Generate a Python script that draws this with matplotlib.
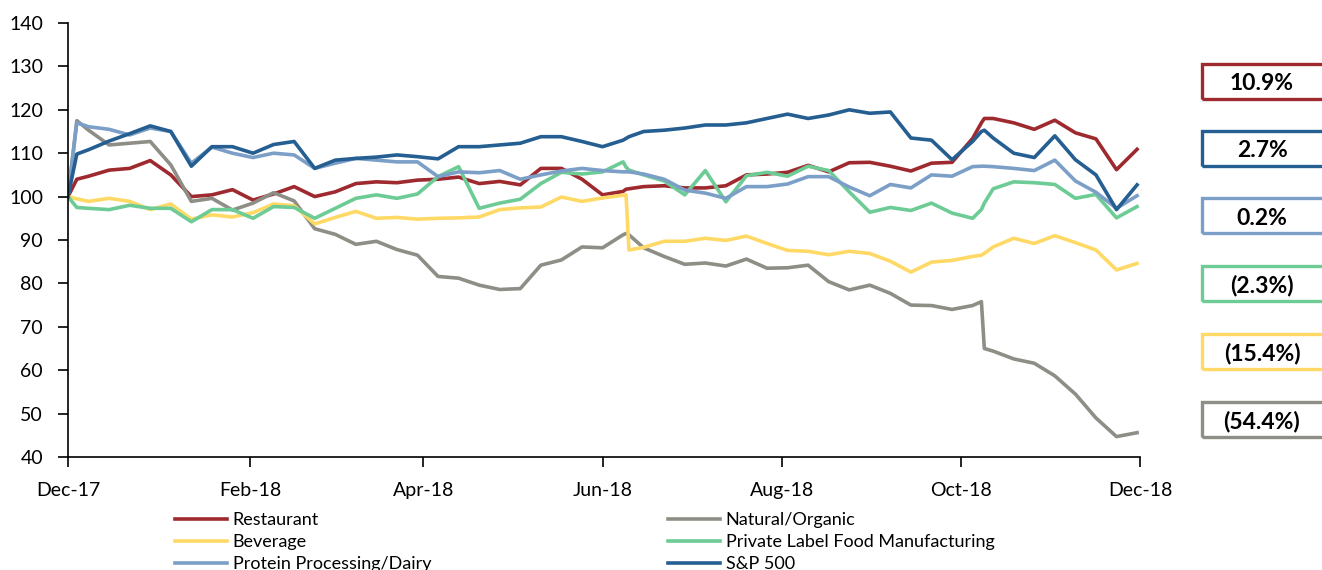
import matplotlib
matplotlib.use("Agg")
import matplotlib.pyplot as plt
import matplotlib.dates as mdates
from matplotlib.patches import Rectangle
import pandas as pd

plt.rcParams['font.family'] = ['Lato', 'DejaVu Sans']

# weekly closes (indexed to 100), plus a few extra days around the big jumps
dates = ["2017-12-01", "2017-12-04", "2017-12-08", "2017-12-15", "2017-12-22", "2017-12-29",
         "2018-01-05", "2018-01-12", "2018-01-19", "2018-01-26",
         "2018-02-02", "2018-02-09", "2018-02-16", "2018-02-23",
         "2018-03-02", "2018-03-09", "2018-03-16", "2018-03-23", "2018-03-30",
         "2018-04-06", "2018-04-13", "2018-04-20", "2018-04-27",
         "2018-05-04", "2018-05-11", "2018-05-18", "2018-05-25",
         "2018-06-01", "2018-06-08", "2018-06-09", "2018-06-10", "2018-06-15", "2018-06-22", "2018-06-29",
         "2018-07-06", "2018-07-13", "2018-07-20", "2018-07-27",
         "2018-08-03", "2018-08-10", "2018-08-17", "2018-08-24", "2018-08-31",
         "2018-09-07", "2018-09-14", "2018-09-21", "2018-09-28",
         "2018-10-05", "2018-10-08", "2018-10-09", "2018-10-12", "2018-10-19", "2018-10-26",
         "2018-11-02", "2018-11-09", "2018-11-16", "2018-11-23", "2018-11-30"]

restaurant = [100, 104.0, 104.7, 106.1, 106.5, 108.3, 105.0, 100.0, 100.4, 101.6,
              99.2, 100.6, 102.3, 100.0, 101.1, 103.0, 103.4, 103.2, 103.8,
              104.0, 104.5, 103.0, 103.5, 102.7, 106.5, 106.5, 104.0,
              100.4, 101.2, 101.7, 101.8, 102.3, 102.5, 102.0,
              102.0, 102.5, 105.0, 105.2, 105.6, 107.2, 105.7, 107.8, 107.9,
              107.0, 105.9, 107.7, 107.9, 113.4, 117.0, 118.0, 118.0, 117.0, 115.5,
              117.6, 114.7, 113.3, 106.2, 110.9]

natural_organic = [100, 117.5, 115.3, 111.9, 112.3, 112.7, 107.3, 98.9, 99.6, 96.9,
                   98.5, 100.9, 99.0, 92.6, 91.3, 89.0, 89.7, 87.8, 86.5,
                   81.6, 81.2, 79.6, 78.6, 78.8, 84.2, 85.4, 88.4,
                   88.2, 91.2, 91.5, 91.2, 88.2, 86.2, 84.4,
                   84.7, 84.0, 85.6, 83.5, 83.6, 84.2, 80.4, 78.5, 79.6,
                   77.7, 75.0, 74.9, 74.0, 74.9, 75.8, 65.0, 64.4, 62.6, 61.6,
                   58.7, 54.5, 49.0, 44.7, 45.6]

beverage = [100, 99.5, 98.9, 99.6, 98.9, 97.0, 98.3, 94.8, 95.8, 95.3,
            96.3, 98.3, 97.9, 93.7, 95.2, 96.6, 95.0, 95.2, 94.8,
            95.0, 95.1, 95.3, 97.0, 97.4, 97.6, 99.9, 98.9,
            99.7, 100.3, 100.4, 87.7, 88.3, 89.7, 89.7,
            90.4, 89.9, 90.9, 89.2, 87.6, 87.4, 86.6, 87.4, 86.9,
            85.1, 82.6, 84.9, 85.3, 86.2, 86.5, 86.9, 88.4, 90.4, 89.2,
            91.0, 89.4, 87.7, 83.1, 84.6]

private_label = [100, 97.5, 97.3, 97.0, 98.0, 97.3, 97.3, 94.2, 97.0, 97.0,
                 95.0, 97.7, 97.5, 95.0, 97.3, 99.6, 100.4, 99.6, 100.6,
                 104.6, 106.9, 97.3, 98.5, 99.4, 103.0, 105.6, 105.2,
                 105.7, 108.0, 106.8, 106.1, 105.0, 103.6, 100.4,
                 106.0, 98.8, 104.8, 105.6, 104.7, 107.0, 106.0, 101.1, 96.4,
                 97.5, 96.8, 98.5, 96.2, 95.0, 97.0, 98.5, 101.8, 103.4, 103.2,
                 102.8, 99.6, 100.5, 95.1, 97.7]

protein_dairy = [100, 117.0, 116.1, 115.5, 114.2, 115.8, 115.0, 107.7, 111.4, 110.0,
                 109.0, 110.0, 109.6, 106.5, 107.7, 108.8, 108.4, 108.0, 108.0,
                 104.6, 105.7, 105.5, 106.0, 104.0, 105.0, 105.9, 106.5,
                 106.0, 105.7, 105.7, 105.7, 105.2, 104.0, 101.5,
                 100.8, 99.6, 102.3, 102.3, 102.9, 104.6, 104.6, 102.2, 100.2,
                 102.8, 102.0, 105.0, 104.7, 106.9, 107.0, 107.0, 106.9, 106.5, 106.0,
                 108.4, 103.6, 101.0, 97.3, 100.2]

sp500 = [100, 109.8, 110.8, 112.8, 114.5, 116.3, 115.0, 107.0, 111.5, 111.5,
         110.0, 112.0, 112.7, 106.5, 108.4, 108.8, 109.1, 109.6, 109.2,
         108.7, 111.5, 111.5, 111.9, 112.3, 113.8, 113.8, 112.7,
         111.5, 113.0, 113.4, 113.8, 115.0, 115.3, 115.8,
         116.5, 116.5, 117.0, 118.0, 119.0, 118.0, 118.8, 120.0, 119.2,
         119.5, 113.5, 113.0, 108.5, 112.7, 115.0, 115.3, 113.5, 110.0, 109.0,
         114.0, 108.5, 105.0, 97.0, 102.7]

names = ["Restaurant", "Natural/Organic", "Beverage",
         "Private Label Food Manufacturing", "Protein Processing/Dairy", "S&P 500"]
colors = ["#9E2A2F", "#8E8E86", "#FFD966", "#6DCB95", "#7C9FC8", "#255E91"]
values = [restaurant, natural_organic, beverage, private_label, protein_dairy, sp500]

# boxes on the right, top to bottom
box_labels = ["10.9%", "2.7%", "0.2%", "(2.3%)", "(15.4%)", "(54.4%)"]
box_colors = ["#9E2A2F", "#255E91", "#7C9FC8", "#6DCB95", "#FFD966", "#8E8E86"]

tick_dates = ["2017-12-01", "2018-02-01", "2018-04-01", "2018-06-01",
              "2018-08-01", "2018-10-01", "2018-12-01"]

W, H = 1322, 570
fig = plt.figure(figsize=(W / 100, H / 100), dpi=100)
ax = fig.add_axes([68 / W, 1 - 457 / H, (1140 - 68) / W, (457 - 23) / H])

x = pd.to_datetime(dates)
handles = []
for name, vals, col in zip(names, values, colors):
    ln, = ax.plot(x, vals, color=col, lw=2.6, solid_joinstyle='round', label=name)
    handles.append(ln)

ax.set_xlim(pd.Timestamp("2017-12-01"), pd.Timestamp("2018-12-01"))
ax.set_ylim(40, 140)
ax.set_yticks(range(40, 141, 10))
ax.set_xticks(pd.to_datetime(tick_dates))
ax.xaxis.set_major_formatter(mdates.DateFormatter("%b-%y"))

for s in ["top", "right"]:
    ax.spines[s].set_visible(False)
for s in ["left", "bottom"]:
    ax.spines[s].set_linewidth(1.2)
ax.tick_params(direction="out", length=7, width=1.2, labelsize=14, pad=11)

# legend: two columns placed by hand
leg_kw = dict(loc="upper left", frameon=False, fontsize=13, handlelength=2.9,
              handletextpad=0.3, labelspacing=0.33, borderaxespad=0, borderpad=0)
fig.legend(handles=[handles[0], handles[2], handles[4]],
           bbox_to_anchor=(175 / W, 1 - 512 / H), **leg_kw)
fig.legend(handles=[handles[1], handles[3], handles[5]],
           bbox_to_anchor=(668 / W, 1 - 512 / H), **leg_kw)

box_tops = [64, 131, 198, 266, 334, 402]
for top, lab, col in zip(box_tops, box_labels, box_colors):
    r = Rectangle((1202 / W, 1 - (top + 35) / H), 130 / W, 35 / H,
                  transform=fig.transFigure, fill=False, ec=col, lw=2.4)
    fig.add_artist(r)
    fig.text(1262 / W, 1 - (top + 20) / H, lab, ha="center", va="center",
             fontsize=16.5, fontweight="bold")

fig.savefig("out.png", dpi=100)
